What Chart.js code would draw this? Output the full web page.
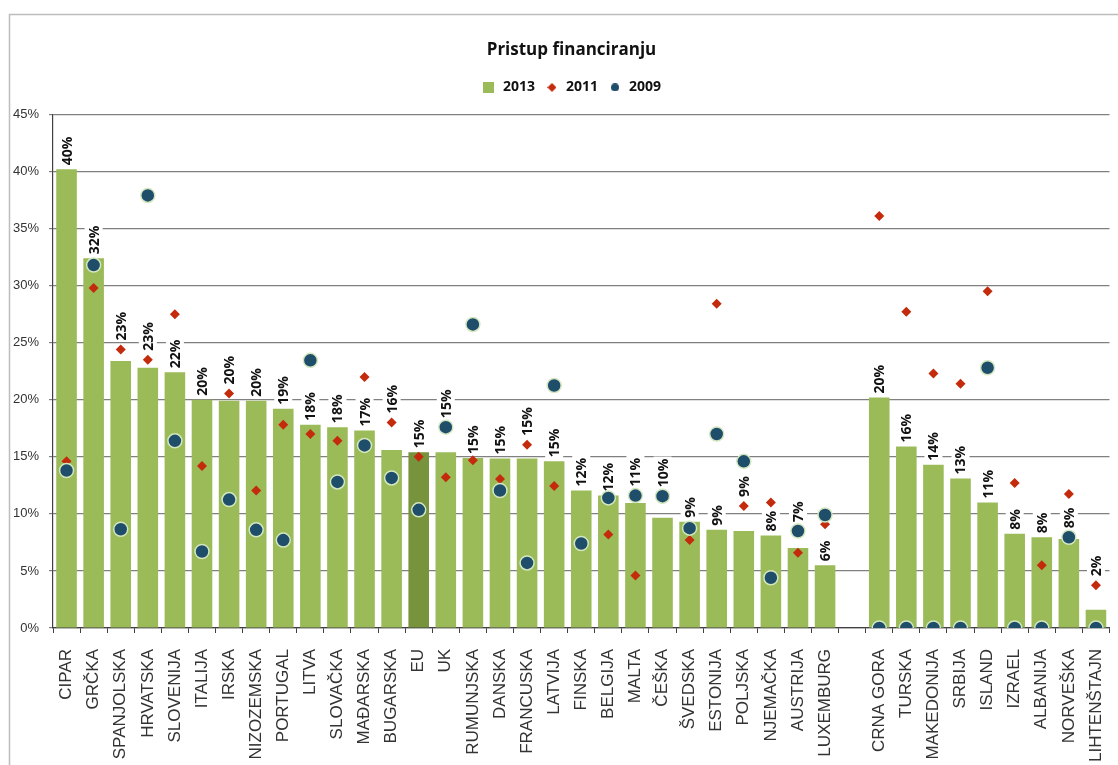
<!DOCTYPE html>
<html>
<head>
<meta charset="utf-8">
<script src="https://cdn.jsdelivr.net/npm/chart.js@4/dist/chart.umd.min.js"></script>
<style>
  html, body { margin: 0; padding: 0; background: #fff; overflow: hidden; }
  #wrap { width: 1118px; height: 765px; }
</style>
</head>
<body>
<div id="wrap"><canvas id="chart"></canvas></div>
<script>
// categories ('' = empty slot between EU and non-EU countries)
const categories = ["CIPAR", "GRČKA", "SPANJOLSKA", "HRVATSKA", "SLOVENIJA", "ITALIJA", "IRSKA", "NIZOZEMSKA", "PORTUGAL", "LITVA",
  "SLOVAČKA", "MAĐARSKA", "BUGARSKA", "EU", "UK", "RUMUNJSKA", "DANSKA", "FRANCUSKA", "LATVIJA", "FINSKA",
  "BELGIJA", "MALTA", "ČEŠKA", "ŠVEDSKA", "ESTONIJA", "POLJSKA", "NJEMAČKA", "AUSTRIJA", "LUXEMBURG", "",
  "CRNA GORA", "TURSKA", "MAKEDONIJA", "SRBIJA", "ISLAND", "IZRAEL", "ALBANIJA", "NORVEŠKA", "LIHTENŠTAJN"];

const v2013 = [40.2, 32.4, 23.4, 22.8, 22.4, 20.0, 19.9, 19.9, 19.2, 17.8,
  17.6, 17.3, 15.6, 15.4, 15.4, 14.9, 14.85, 14.85, 14.6, 12.05,
  11.6, 10.95, 9.65, 9.3, 8.6, 8.5, 8.1, 7.0, 5.5, null,
  20.2, 15.9, 14.3, 13.1, 11.0, 8.25, 7.95, 7.8, 1.6];

const v2011 = [14.6, 29.8, 24.4, 23.5, 27.5, 14.2, 20.55, 12.05, 17.8, 17.0,
  16.4, 22.0, 18.0, 15.0, 13.2, 14.7, 13.05, 16.05, 12.45, null,
  8.2, 4.6, null, 7.7, 28.4, 10.7, 11.0, 6.6, 9.1, null,
  36.1, 27.7, 22.3, 21.4, 29.5, 12.7, 5.5, 11.75, 3.75];

const v2009 = [13.8, 31.8, 8.65, 37.9, 16.4, 6.7, 11.25, 8.6, 7.7, 23.45,
  12.8, 16.0, 13.15, 10.35, 17.6, 26.6, 12.05, 5.7, 21.25, 7.4,
  11.4, 11.6, 11.55, 8.75, 17.0, 14.6, 4.4, 8.5, 9.9, null,
  0, 0, 0, 0, 22.8, 0, 0, 7.95, 0];

const yTicks = [0, 5, 10, 15, 20, 25, 30, 35, 40, 45];

const green = '#9bbb59';
const darkGreen = '#77933c';
const red = '#c42a0c';
const navy = '#1f4e6b';

// small legend symbols with their own sizes
function symbol(size, draw) {
  const c = document.createElement('canvas');
  c.width = size; c.height = size;
  draw(c.getContext('2d'), size);
  return c;
}
const legendSymbols = [
  symbol(11, (g, s) => { g.fillStyle = green; g.fillRect(0, 0, s, s); }),
  symbol(9, (g, s) => { g.fillStyle = red; g.beginPath(); g.moveTo(s / 2, 0); g.lineTo(s, s / 2); g.lineTo(s / 2, s); g.lineTo(0, s / 2); g.closePath(); g.fill(); }),
  symbol(8, (g, s) => { g.fillStyle = navy; g.beginPath(); g.arc(s / 2, s / 2, s / 2, 0, Math.PI * 2); g.fill(); })
];

const frame = {
  id: 'frame',
  beforeInit(chart) {
    const fit = chart.legend.fit;
    chart.legend.fit = function () { fit.call(this); this.height += 10; };
  },
  afterLayout(chart) {
    // title and legend sit a little right of the canvas centre
    [chart.titleBlock, chart.legend].forEach(b => { if (b) { b.left += 15; b.right += 15; } });
  },
  beforeDraw(chart) {
    const ctx = chart.ctx;
    ctx.save();
    ctx.strokeStyle = '#bdbdbd';
    ctx.lineWidth = 1.5;
    ctx.strokeRect(9.5, 14.5, 1300, 900);
    ctx.restore();
  }
};

// value labels above 2013 bars (pushed above a marker sitting just over the bar)
const barLabels = {
  id: 'barLabels',
  afterDatasetDraw(chart, args) {
    if (args.index !== 0) return;
    const { ctx, scales: { x, y } } = chart;
    ctx.save();
    ctx.font = 'bold 14px "Open Sans"';
    v2013.forEach((v, i) => {
      if (v == null) return;
      let base = v, gap = 4;
      [v2011[i], v2009[i]].forEach(m => {
        if (m != null && m > base && m - v <= 2.5) { base = m; gap = 9; }
      });
      const text = Math.round(v) + '%';
      const w = ctx.measureText(text).width;
      ctx.save();
      ctx.translate(x.getPixelForValue(i), y.getPixelForValue(base) - gap);
      ctx.rotate(-Math.PI / 2);
      ctx.fillStyle = '#fff';
      ctx.fillRect(-1, -9, w + 3, 18);
      ctx.fillStyle = '#111';
      ctx.textAlign = 'left';
      ctx.textBaseline = 'middle';
      ctx.fillText(text, 0, 1);
      ctx.restore();
    });
    ctx.restore();
  }
};

new Chart(document.getElementById('chart'), {
  data: {
    labels: categories,
    datasets: [
      {
        type: 'bar',
        label: '2013',
        data: v2013,
        backgroundColor: categories.map(c => c === 'EU' ? darkGreen : green),
        barPercentage: 0.76,
        categoryPercentage: 1,
        order: 2
      },
      {
        type: 'line',
        label: '2011',
        data: v2011,
        showLine: false,
        pointStyle: 'rectRot',
        pointRadius: 5,
        pointBackgroundColor: red,
        pointBorderColor: red,
        pointBorderWidth: 0,
        backgroundColor: red,
        borderColor: red,
        order: 1
      },
      {
        type: 'line',
        label: '2009',
        data: v2009,
        showLine: false,
        pointStyle: 'circle',
        pointRadius: 7,
        pointBackgroundColor: navy,
        pointBorderColor: '#d4e6c0',
        pointBorderWidth: 1.5,
        backgroundColor: navy,
        borderColor: navy,
        order: 0
      }
    ]
  },
  options: {
    responsive: true,
    maintainAspectRatio: false,
    animation: false,
    layout: { padding: { left: 0, right: 5, top: 0, bottom: 0 } },
    plugins: {
      title: {
        display: true,
        text: 'Pristup financiranju',
        color: '#111',
        font: { family: '"Open Sans"', size: 17, weight: 'bold' },
        padding: { top: 40, bottom: 10 }
      },
      legend: {
        display: true,
        labels: {
          usePointStyle: true,
          boxHeight: 11,
          color: '#111',
          font: { family: '"Open Sans"', size: 14, weight: 'bold' },
          padding: 10,
          generateLabels(chart) {
            return chart.data.datasets.map((ds, i) => ({
              text: ds.label,
              datasetIndex: i,
              pointStyle: legendSymbols[i],
              fillStyle: 'transparent',
              strokeStyle: 'transparent',
              lineWidth: 0,
              fontColor: '#111',
              hidden: false
            }));
          }
        }
      },
      tooltip: { enabled: false }
    },
    scales: {
      x: {
        grid: { display: true, drawOnChartArea: false, drawTicks: true, tickLength: 5, color: '#404040' },
        border: { display: true, color: '#404040', width: 1.2 },
        ticks: {
          autoSkip: false,
          maxRotation: 90,
          minRotation: 90,
          padding: 16,
          color: '#333',
          font: { family: '"Liberation Sans"', size: 17 }
        },
        afterFit(scale) { scale.height = 137; scale.paddingLeft = 0; scale.paddingRight = 0; }
      },
      y: {
        min: 0,
        max: 45,
        afterBuildTicks(scale) { scale.ticks = yTicks.map(v => ({ value: v })); },
        grid: { color: '#808080', lineWidth: 1.2, tickLength: 4 },
        border: { display: true, color: '#404040', width: 1.2 },
        ticks: {
          padding: 10,
          color: '#333',
          font: { family: '"Liberation Sans"', size: 13 },
          callback: v => v + '%'
        },
        afterFit(scale) { scale.width = 53; }
      }
    }
  },
  plugins: [frame, barLabels]
});
</script>
</body>
</html>
